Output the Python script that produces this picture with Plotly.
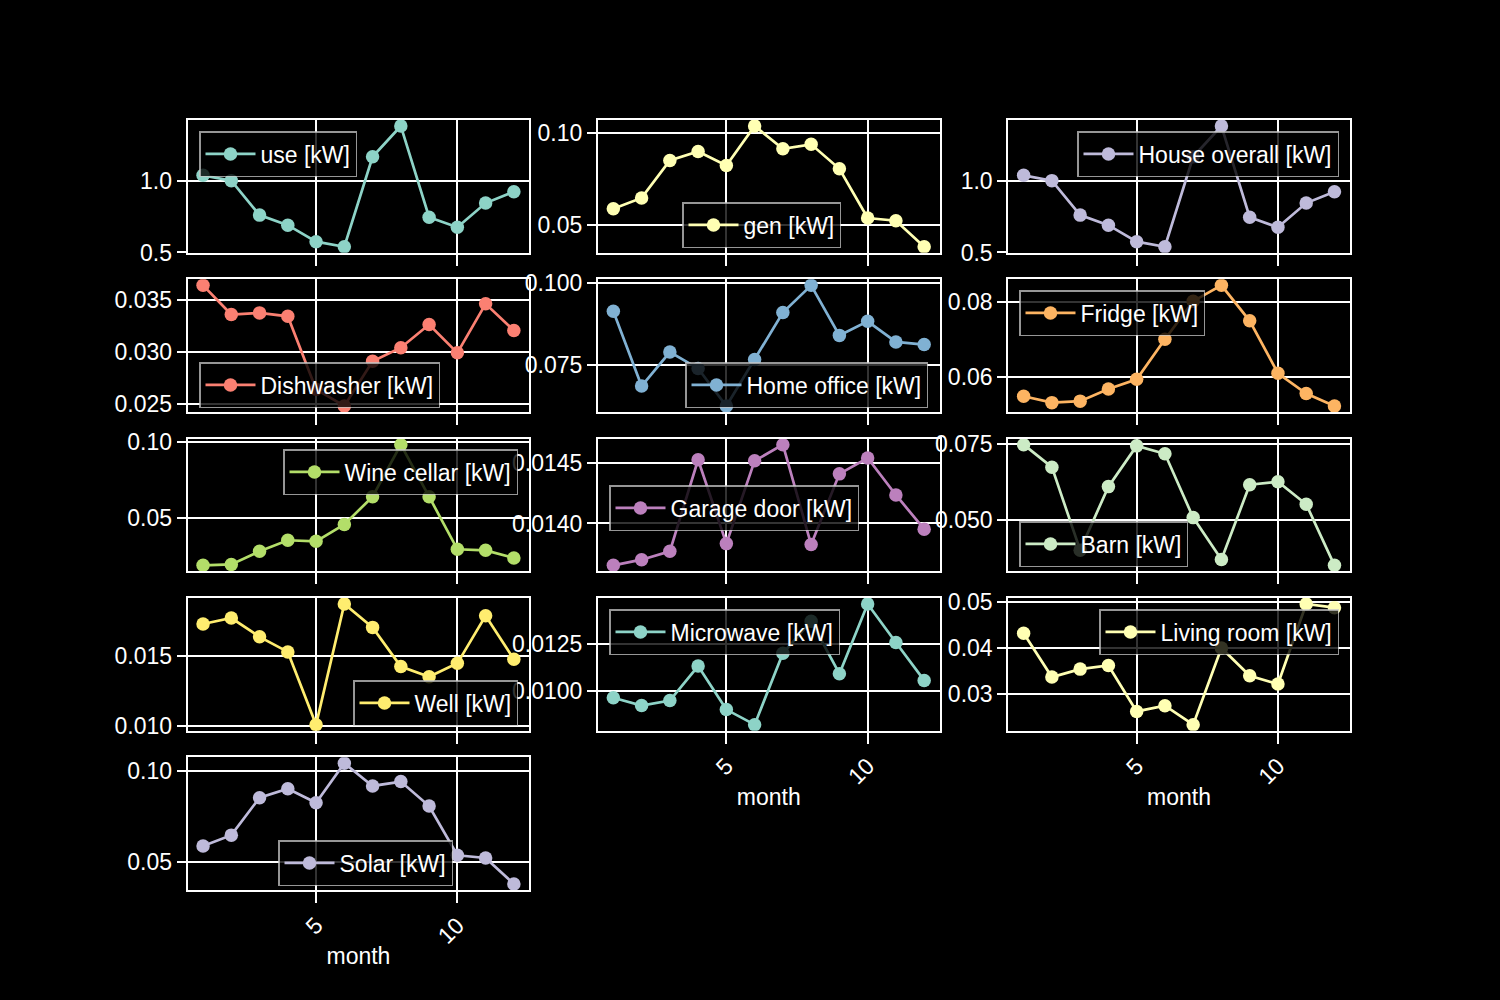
import plotly.graph_objects as go

months = list(range(1, 13))

use_kw = [1.037, 1.0, 0.76, 0.69, 0.575, 0.54, 1.166, 1.38, 0.745, 0.675, 0.844, 0.923]
gen_kw = [0.0588, 0.0647, 0.0852, 0.0901, 0.0824, 0.104, 0.0916, 0.094, 0.0806, 0.0537, 0.0522, 0.038]
house_kw = [1.037, 1.0, 0.76, 0.69, 0.575, 0.54, 1.166, 1.38, 0.745, 0.675, 0.844, 0.923]
dishwasher_kw = [0.03637, 0.03357, 0.03373, 0.0334, 0.0264, 0.0248, 0.0291, 0.03039, 0.03261, 0.0299, 0.0346, 0.03204]
home_office_kw = [0.0913, 0.0684, 0.0788, 0.0738, 0.0623, 0.0765, 0.0909, 0.0992, 0.0839, 0.0882, 0.0819, 0.0811]
fridge_kw = [0.055, 0.0533, 0.0537, 0.0569, 0.0595, 0.0701, 0.0802, 0.0844, 0.075, 0.0611, 0.0557, 0.0524]
wine_cellar_kw = [0.0193, 0.0199, 0.0285, 0.0357, 0.035, 0.046, 0.0642, 0.0982, 0.0642, 0.0298, 0.0291, 0.0241]
garage_door_kw = [0.013653, 0.0137, 0.013769, 0.014528, 0.013833, 0.014519, 0.014653, 0.013825, 0.014411, 0.014542, 0.014236, 0.013953]
barn_kw = [0.0748, 0.0674, 0.0401, 0.061, 0.0744, 0.0718, 0.0508, 0.037, 0.0616, 0.0626, 0.0552, 0.0351]
well_kw = [0.01729, 0.01772, 0.01637, 0.01529, 0.01007, 0.01873, 0.01705, 0.01424, 0.01351, 0.01447, 0.01788, 0.01476]
microwave_kw = [0.009652, 0.009246, 0.00951, 0.011319, 0.009035, 0.008244, 0.011988, 0.01366, 0.010918, 0.014573, 0.012553, 0.010564]
living_room_kw = [0.04324, 0.03364, 0.03538, 0.03617, 0.02613, 0.02737, 0.02323, 0.04, 0.03392, 0.03211, 0.04963, 0.04882]
solar_kw = [0.0588, 0.0647, 0.0852, 0.0901, 0.0824, 0.104, 0.0916, 0.094, 0.0806, 0.0537, 0.0522, 0.038]

series_names = ["use [kW]", "gen [kW]", "House overall [kW]", "Dishwasher [kW]", "Home office [kW]",
                "Fridge [kW]", "Wine cellar [kW]", "Garage door [kW]", "Barn [kW]", "Well [kW]",
                "Microwave [kW]", "Living room [kW]", "Solar [kW]"]
series_values = [use_kw, gen_kw, house_kw, dishwasher_kw, home_office_kw, fridge_kw, wine_cellar_kw,
                 garage_door_kw, barn_kw, well_kw, microwave_kw, living_room_kw, solar_kw]

# styling
colors = ["#8dd3c7", "#ffffb3", "#bebada", "#fb8072", "#80b1d3", "#fdb462", "#b3de69",
          "#bc80bd", "#ccebc5", "#ffed6f", "#8dd3c7", "#ffffb3", "#bebada"]
y_dticks = [0.5, 0.05, 0.5, 0.005, 0.025, 0.02, 0.05, 0.0005, 0.025, 0.005, 0.0025, 0.01, 0.05]
y_formats = [".1f", ".2f", ".1f", ".3f", ".3f", ".2f", ".2f", ".4f", ".3f", ".3f", ".4f", ".2f", ".2f"]
# legend box (pixel x, pixel y top, x anchor)
legend_pos = [(199, 131, "left"), (682, 202, "left"), (1339, 131, "right"),
              (199, 362, "left"), (928, 362, "right"), (1019, 290, "left"),
              (518, 449, "right"), (609, 485, "left"), (1019, 521, "left"),
              (518, 680, "right"), (609, 609, "left"), (1339, 609, "right"),
              (453, 840, "right")]
labeled = {10, 11, 12}  # subplots with x tick labels: Microwave, Living room, Solar

W, H = 1500, 1000
left, right, top, bottom = 0.125, 0.9, 0.88, 0.11
ncols, nrows = 3, 5
w = (right - left) / (ncols + (ncols - 1) * 0.2)
h = (top - bottom) / (nrows + (nrows - 1) * 0.2)

FONT = "Liberation Sans, Arial, sans-serif"
FS = 23

fig = go.Figure()
layout = dict(
    width=W, height=H,
    paper_bgcolor="black", plot_bgcolor="black",
    margin=dict(l=0, r=0, t=0, b=0),
    font=dict(family=FONT, size=FS, color="white"),
    showlegend=True,
)

for i, (name, vals) in enumerate(zip(series_names, series_values)):
    r, c = divmod(i, ncols)
    x0 = left + c * w * 1.2
    y1 = top - r * h * 1.2
    suffix = "" if i == 0 else str(i + 1)
    leg = "legend" if i == 0 else f"legend{i + 1}"
    fig.add_trace(go.Scatter(
        x=months, y=vals, mode="lines+markers", name=name,
        line=dict(color=colors[i], width=2.7),
        marker=dict(color=colors[i], size=13.5),
        xaxis="x" + suffix, yaxis="y" + suffix, legend=leg,
    ))
    vmin, vmax = min(vals), max(vals)
    pad = 0.05 * (vmax - vmin)
    show_x = i in labeled
    layout["xaxis" + suffix] = dict(
        domain=[x0, x0 + w], anchor="y" + suffix,
        range=[1 - 0.55, 12 + 0.55], tickvals=[5, 10],
        showgrid=True, gridcolor="white", gridwidth=1.7,
        showline=True, mirror=True, linecolor="white", linewidth=1.7,
        ticks="outside", ticklen=11, tickwidth=1.7, tickcolor="white",
        showticklabels=show_x, tickangle=-45, zeroline=False,
        tickfont=dict(family=FONT, size=FS, color="white"),
        title=dict(text="month" if show_x else "", font=dict(family=FONT, size=FS, color="white"), standoff=0),
        automargin=False,
    )
    layout["yaxis" + suffix] = dict(
        domain=[y1 - h, y1], anchor="x" + suffix,
        range=[vmin - pad, vmax + pad], dtick=y_dticks[i], tick0=0, tickformat=y_formats[i],
        showgrid=True, gridcolor="white", gridwidth=1.7,
        showline=True, mirror=True, linecolor="white", linewidth=1.7,
        ticks="outside", ticklen=9, tickwidth=1.7, tickcolor="white",
        zeroline=False, tickfont=dict(family=FONT, size=FS, color="white"),
        automargin=False,
    )
    px, py, anc = legend_pos[i]
    layout[leg] = dict(
        x=px / W, y=1 - py / H, xanchor=anc, yanchor="top",
        bgcolor="rgba(0,0,0,0.8)", bordercolor="rgba(200,200,200,0.75)", borderwidth=1.5,
        font=dict(family=FONT, size=FS, color="white"),
        itemwidth=50, itemclick=False, itemdoubleclick=False,
    )

fig.update_layout(**layout)
fig.write_html(
    "out.html",
    config={"displayModeBar": False},
    post_script="document.body.style.margin='0';document.body.style.background='black';",
)
